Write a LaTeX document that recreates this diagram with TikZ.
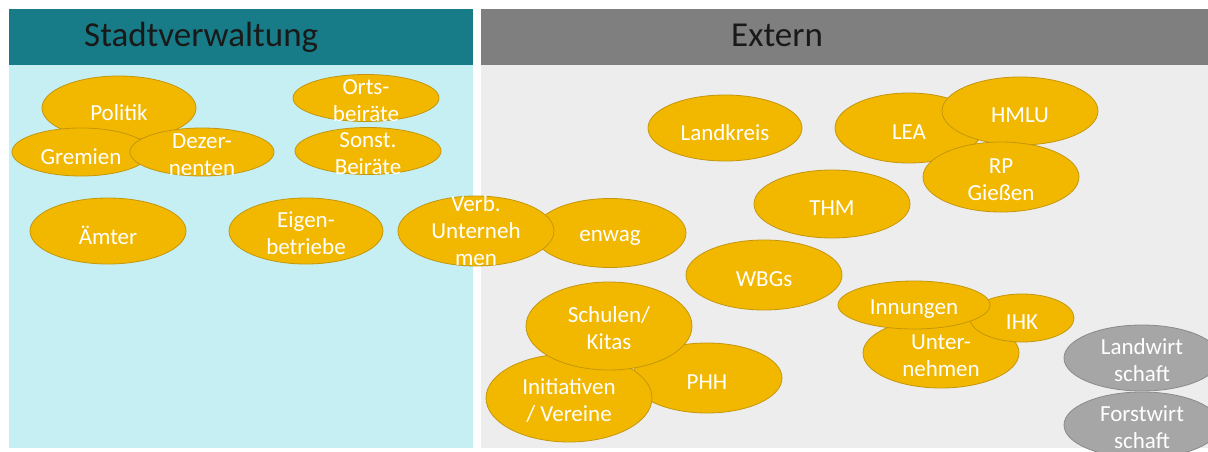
\documentclass[tikz,border=0pt]{standalone}
\usepackage{fontspec}
\setmainfont{Carlito}
\usetikzlibrary{shapes.geometric}
\definecolor{tealhd}{RGB}{23,124,135}
\definecolor{cyanbg}{RGB}{197,239,243}
\definecolor{grayhd}{RGB}{127,127,127}
\definecolor{graybg}{RGB}{237,237,237}
\definecolor{gold}{RGB}{242,184,0}
\definecolor{goldline}{RGB}{196,150,10}
\definecolor{greyfill}{RGB}{166,166,166}
\definecolor{greyline}{RGB}{138,138,138}
\begin{document}
\begin{tikzpicture}[x=1pt,y=-1pt,
  blob/.style={ellipse, draw=goldline, fill=gold, line width=0.8pt, inner sep=0pt},
  gblob/.style={blob, draw=greyline, fill=greyfill},
  lbl/.style={text=white, align=center, font=\fontsize{23}{27}\selectfont, inner sep=0pt, yshift=-2.5pt},
  lblone/.style={lbl, yshift=-2pt},
  paneltitle/.style={font=\fontsize{35}{42}\selectfont, text=black!90, anchor=base west, inner sep=0pt}]
\useasboundingbox (0,0) rectangle (1208,452);
\fill[white] (0,0) rectangle (1208,452);
% panels
\fill[cyanbg] (9,65) rectangle (473,448);
\fill[tealhd] (9,9) rectangle (473,65);
\fill[graybg] (481,65) rectangle (1208,448);
\fill[grayhd] (481,9) rectangle (1208,65);
\node[paneltitle] (tstadt) at (84,47) {Stadtverwaltung};
\node[paneltitle] (textern) at (731,47) {Extern};
% Stadtverwaltung
\node[blob, minimum width=154pt, minimum height=64pt] (politik) at (119,108) {};
\node[lblone] (politikt) at (politik.center) {Politik};
\node[blob, minimum width=138pt, minimum height=48pt] (gremien) at (81,152) {};
\node[lblone] (gremient) at (gremien.center) {Gremien};
\node[blob, minimum width=144pt, minimum height=48pt] (dezern) at (202,152) {};
\node[lbl] (dezernt) at (dezern.center) {Dezer-\\nenten};
\node[blob, minimum width=146pt, minimum height=47pt] (orts) at (366,98) {};
\node[lbl] (ortst) at (orts.center) {Orts-\\beiräte};
\node[blob, minimum width=146pt, minimum height=47pt] (sonst) at (368,151) {};
\node[lbl] (sonstt) at (sonst.center) {Sonst.\\Beiräte};
\node[blob, minimum width=156pt, minimum height=66pt] (aemter) at (108,231) {};
\node[lblone] (aemtert) at (aemter.center) {Ämter};
\node[blob, minimum width=154pt, minimum height=66pt] (eigen) at (306,231) {};
\node[lbl] (eigent) at (eigen.center) {Eigen-\\betriebe};
% Extern
\node[blob, minimum width=152pt, minimum height=69pt] (enwag) at (610,233) {};
\node[lblone] (enwagt) at (enwag.center) {enwag};
\node[blob, minimum width=156pt, minimum height=70pt] (verb) at (476,231) {};
\node[lbl, yshift=2.5pt] (verbt) at (verb.center) {Verb.\\Unterneh\\men};
\node[blob, minimum width=154pt, minimum height=66pt] (landkreis) at (725,128) {};
\node[lblone] (landkreist) at (landkreis.center) {Landkreis};
\node[blob, minimum width=148pt, minimum height=70pt] (lea) at (909,128) {};
\node[lblone] (leat) at (lea.center) {LEA};
\node[blob, minimum width=156pt, minimum height=68pt] (hmlu) at (1020,111) {};
\node[lblone] (hmlut) at (hmlu.center) {HMLU};
\node[blob, minimum width=156pt, minimum height=70pt] (rp) at (1001,177) {};
\node[lbl] (rpt) at (rp.center) {RP\\Gießen};
\node[blob, minimum width=156pt, minimum height=68pt] (thm) at (832,204) {};
\node[lblone] (thmt) at (thm.center) {THM};
\node[blob, minimum width=156pt, minimum height=70pt] (wbgs) at (764,275) {};
\node[lblone] (wbgst) at (wbgs.center) {WBGs};
\node[blob, minimum width=150pt, minimum height=70pt] (phh) at (707,378) {};
\node[lblone] (phht) at (phh.center) {PHH};
\node[blob, minimum width=166pt, minimum height=88pt] (init) at (569,398) {};
\node[lbl] (initt) at (init.center) {Initiativen\\/ Vereine};
\node[blob, minimum width=166pt, minimum height=88pt] (schulen) at (609,326) {};
\node[lbl] (schulent) at (schulen.center) {Schulen/\\Kitas};
\node[blob, minimum width=156pt, minimum height=70pt] (unter) at (941,353) {};
\node[lbl] (untert) at (unter.center) {Unter-\\nehmen};
\node[blob, minimum width=104pt, minimum height=48pt] (ihk) at (1022,318) {};
\node[lblone] (ihkt) at (ihk.center) {IHK};
\node[blob, minimum width=152pt, minimum height=48pt] (innung) at (914,305) {};
\node[lblone] (innungt) at (innung.center) {Innungen};
\node[gblob, minimum width=156pt, minimum height=66pt] (landw) at (1142,358) {};
\node[lbl] (landwt) at (landw.center) {Landwirt\\schaft};
\node[gblob, minimum width=156pt, minimum height=66pt] (forstw) at (1142,425) {};
\node[lbl] (forstwt) at (forstw.center) {Forstwirt\\schaft};
\end{tikzpicture}
\end{document}
